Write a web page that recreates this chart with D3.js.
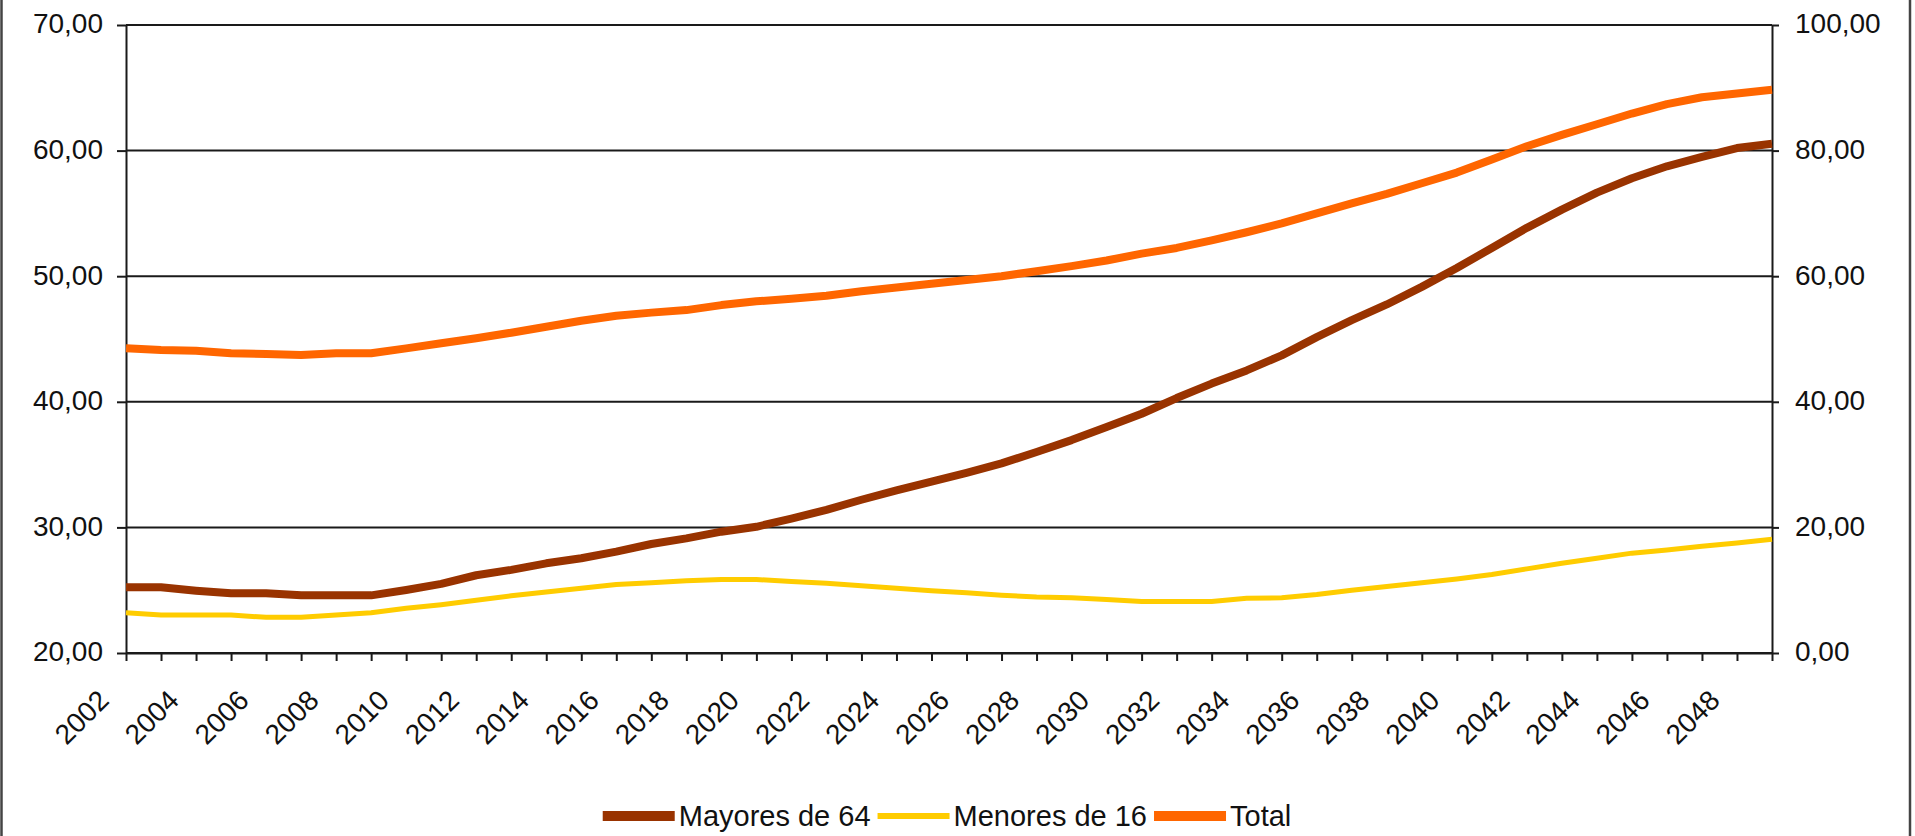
<!DOCTYPE html>
<html>
<head>
<meta charset="utf-8">
<script src="https://cdn.jsdelivr.net/npm/d3@7/dist/d3.min.js"></script>
<style>
  html, body { margin: 0; padding: 0; background: #fff; }
  svg { display: block; font-family: "Liberation Sans", Arial, sans-serif; }
</style>
</head>
<body>
<svg id="chart" width="1915" height="836"></svg>
<script>
// Years on the category axis
const years = [2002, 2003, 2004, 2005, 2006, 2007, 2008, 2009, 2010, 2011,
               2012, 2013, 2014, 2015, 2016, 2017, 2018, 2019, 2020, 2021,
               2022, 2023, 2024, 2025, 2026, 2027, 2028, 2029, 2030, 2031,
               2032, 2033, 2034, 2035, 2036, 2037, 2038, 2039, 2040, 2041,
               2042, 2043, 2044, 2045, 2046, 2047, 2048, 2049];

// Old-age dependency (left axis)
const mayores = [25.23, 25.23, 24.96, 24.75, 24.75, 24.59, 24.59, 24.59, 25.02, 25.50,
                 26.19, 26.62, 27.14, 27.54, 28.07, 28.68, 29.13, 29.66, 30.05, 30.70,
                 31.40, 32.20, 32.95, 33.65, 34.35, 35.10, 36.00, 36.95, 38.00, 39.05,
                 40.30, 41.45, 42.50, 43.70, 45.15, 46.50, 47.75, 49.15, 50.65, 52.25,
                 53.85, 55.30, 56.65, 57.80, 58.75, 59.50, 60.20, 60.55];

// Youth dependency (left axis)
const menores = [23.21, 23.03, 23.03, 23.03, 22.84, 22.84, 23.03, 23.21, 23.56, 23.85,
                 24.20, 24.55, 24.85, 25.15, 25.45, 25.60, 25.75, 25.85, 25.85, 25.70,
                 25.55, 25.35, 25.15, 24.95, 24.80, 24.60, 24.45, 24.40, 24.25, 24.10,
                 24.10, 24.10, 24.35, 24.40, 24.65, 25.00, 25.30, 25.60, 25.90, 26.25,
                 26.70, 27.15, 27.55, 27.95, 28.20, 28.50, 28.75, 29.05];

// Total dependency (right axis)
const total = [48.51, 48.25, 48.14, 47.72, 47.61, 47.45, 47.72, 47.72, 48.51, 49.31,
               50.11, 51.00, 51.95, 52.90, 53.70, 54.20, 54.60, 55.40, 56.00, 56.40,
               56.90, 57.60, 58.20, 58.80, 59.40, 60.00, 60.80, 61.60, 62.50, 63.60,
               64.50, 65.70, 67.00, 68.40, 70.00, 71.60, 73.10, 74.80, 76.50, 78.60,
               80.70, 82.50, 84.20, 85.90, 87.40, 88.50, 89.10, 89.70];

const leftTicks = [20, 30, 40, 50, 60, 70];
const rightTicks = [0, 20, 40, 60, 80, 100];

const seriesNames = ["Mayores de 64", "Menores de 16", "Total"];
const seriesColors = ["#993300", "#FFCC00", "#FF6600"];
const seriesWidths = [8, 5, 8];
const legendWidths = [10, 6, 10];

// ---- layout ----
const plot = { left: 126, right: 1772, top: 25, bottom: 653 };
const svg = d3.select("#chart");

const x = d3.scalePoint().domain(years).range([plot.left, plot.right]);
const yL = d3.scaleLinear().domain([20, 70]).range([plot.bottom, plot.top]);
const yR = d3.scaleLinear().domain([0, 100]).range([plot.bottom, plot.top]);

const locale = d3.formatLocale({ decimal: ",", thousands: ".", grouping: [3], currency: ["", " €"] });
const fmt = locale.format(".2f");

// outer frame (left and right edges)
svg.append("line").attr("x1", 1.5).attr("x2", 1.5).attr("y1", 0).attr("y2", 836)
  .attr("stroke", "#444").attr("stroke-width", 2.5);
svg.append("line").attr("x1", 1910).attr("x2", 1910).attr("y1", 0).attr("y2", 836)
  .attr("stroke", "#444").attr("stroke-width", 2.5);

// horizontal gridlines
svg.append("g").selectAll("line").data(leftTicks).join("line")
  .attr("x1", plot.left).attr("x2", plot.right)
  .attr("y1", d => yL(d)).attr("y2", d => yL(d))
  .attr("stroke", "#1a1a1a").attr("stroke-width", 2);

// axes
function styleAxis(g) {
  g.selectAll("path.domain").attr("stroke", "#1a1a1a").attr("stroke-width", 2);
  g.selectAll(".tick line").attr("stroke", "#1a1a1a").attr("stroke-width", 2);
  g.selectAll(".tick text").attr("fill", "#111").attr("font-size", 28);
}

const gLeft = svg.append("g").attr("transform", `translate(${plot.left},0)`)
  .call(d3.axisLeft(yL).tickValues(leftTicks).tickSize(9).tickSizeOuter(0)
    .tickPadding(14).tickFormat(fmt));
styleAxis(gLeft);
gLeft.selectAll(".tick text").attr("dy", "0.28em");

const gRight = svg.append("g").attr("transform", `translate(${plot.right},0)`)
  .call(d3.axisRight(yR).tickValues(rightTicks).tickSize(7).tickSizeOuter(0)
    .tickPadding(16).tickFormat(fmt));
styleAxis(gRight);
gRight.selectAll(".tick text").attr("dy", "0.28em");

const gBottom = svg.append("g").attr("transform", `translate(0,${plot.bottom})`)
  .call(d3.axisBottom(x).tickValues(years).tickSize(8).tickSizeOuter(0)
    .tickFormat(d => (d % 2 === 0 ? String(d) : "")));
styleAxis(gBottom);
gBottom.selectAll(".tick text")
  .attr("x", 0).attr("y", 0).attr("dy", 0)
  .attr("text-anchor", "end")
  .attr("transform", "translate(-16,49) rotate(-45)");

// series lines
const series = [
  { values: mayores, scale: yL },
  { values: menores, scale: yL },
  { values: total, scale: yR }
];
series.forEach((s, i) => {
  const line = d3.line()
    .x((d, j) => x(years[j]))
    .y(d => s.scale(d));
  svg.append("path")
    .datum(s.values)
    .attr("d", line)
    .attr("fill", "none")
    .attr("stroke", seriesColors[i])
    .attr("stroke-width", seriesWidths[i])
    .attr("stroke-linejoin", "round");
});

// legend
const legend = svg.append("g");
const legendY = 816;
let cx = 0;
seriesNames.forEach((name, i) => {
  const item = legend.append("g");
  item.append("line")
    .attr("x1", cx).attr("x2", cx + 72)
    .attr("y1", legendY).attr("y2", legendY)
    .attr("stroke", seriesColors[i]).attr("stroke-width", legendWidths[i]);
  const t = item.append("text")
    .attr("x", cx + 76).attr("y", legendY).attr("dy", "0.36em")
    .attr("font-size", 29).attr("fill", "#111")
    .text(name);
  cx += 76 + t.node().getComputedTextLength() + 7;
});
const legendWidth = cx - 7;
legend.attr("transform", `translate(${947 - legendWidth / 2},0)`);
</script>
</body>
</html>
